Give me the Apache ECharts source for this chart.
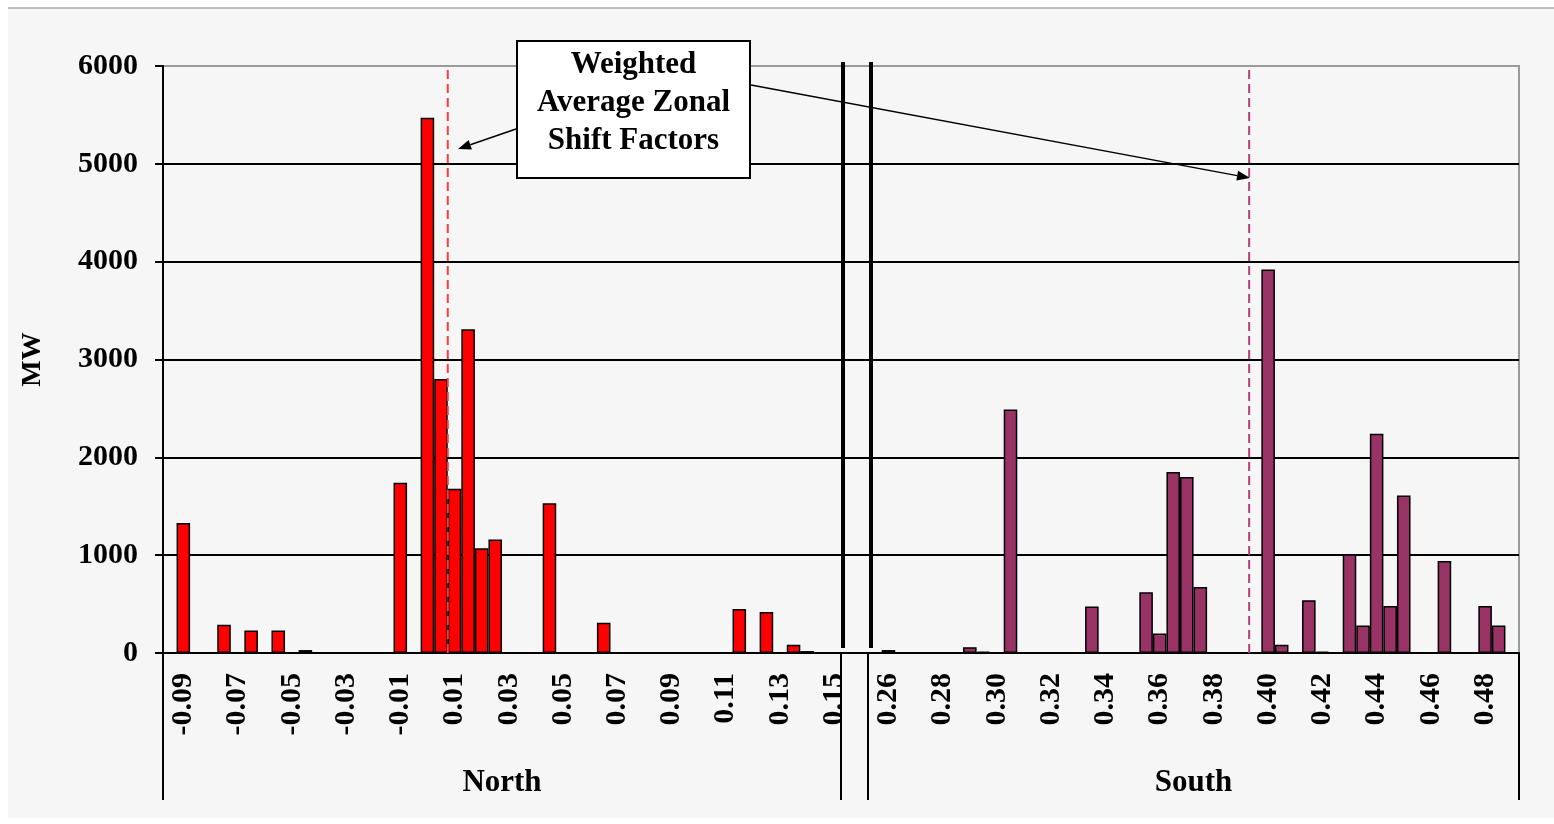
<!DOCTYPE html>
<html>
<head>
<meta charset="utf-8">
<script src="https://cdn.jsdelivr.net/npm/echarts@6/dist/echarts.min.js"></script>
<style>
html, body { margin: 0; padding: 0; background: #fff; }
#wrap { position: relative; width: 1554px; height: 824px; }
#panel { position: absolute; left: 8px; top: 7px; width: 1546px; height: 809px; background: #f6f6f6; border-top: 2px solid #bdbdbd; }
#container { position: absolute; left: 0; top: 0; width: 1554px; height: 824px; }
</style>
</head>
<body>
<div id="wrap"><div id="panel"></div><div id="container"></div></div>
<script>
// shift factor bins (0.005 wide)
var northCats = ['-0.095', '-0.090', '-0.085', '-0.080', '-0.075', '-0.070', '-0.065', '-0.060', '-0.055', '-0.050',
    '-0.045', '-0.040', '-0.035', '-0.030', '-0.025', '-0.020', '-0.015', '-0.010', '-0.005', '0.000',
    '0.005', '0.010', '0.015', '0.020', '0.025', '0.030', '0.035', '0.040', '0.045', '0.050',
    '0.055', '0.060', '0.065', '0.070', '0.075', '0.080', '0.085', '0.090', '0.095', '0.100',
    '0.105', '0.110', '0.115', '0.120', '0.125', '0.130', '0.135', '0.140', '0.145', '0.150'];
var northMW = [0, 1330, 0, 0, 290, 0, 230, 0, 230, 0,
    30, 0, 0, 0, 0, 0, 0, 1740, 0, 5470,
    2800, 1680, 3310, 1070, 1160, 0, 0, 0, 1530, 0,
    0, 0, 310, 0, 0, 0, 0, 0, 0, 0,
    0, 0, 450, 0, 420, 0, 85, 20, 0, 0];

var southCats = ['0.255', '0.260', '0.265', '0.270', '0.275', '0.280', '0.285', '0.290', '0.295', '0.300',
    '0.305', '0.310', '0.315', '0.320', '0.325', '0.330', '0.335', '0.340', '0.345', '0.350',
    '0.355', '0.360', '0.365', '0.370', '0.375', '0.380', '0.385', '0.390', '0.395', '0.400',
    '0.405', '0.410', '0.415', '0.420', '0.425', '0.430', '0.435', '0.440', '0.445', '0.450',
    '0.455', '0.460', '0.465', '0.470', '0.475', '0.480', '0.485', '0.490'];
var southMW = [0, 30, 0, 0, 0, 0, 0, 60, 15, 0,
    2490, 0, 0, 0, 0, 0, 475, 0, 0, 0,
    620, 200, 1850, 1800, 675, 0, 0, 0, 0, 3920,
    85, 0, 540, 15, 0, 1010, 280, 2240, 480, 1610,
    0, 0, 940, 0, 0, 480, 280, 0];

var zones = ['North', 'South'];
// weighted average zonal shift factors
var northAvg = 0.0075;
var southAvg = 0.393;

var FONT = "'Liberation Serif', 'Times New Roman', serif";
var STEP = 0.005;
var gapCats = ['', ''];
var allCats = northCats.concat(gapCats, southCats);
var nN = northCats.length, nG = gapCats.length, nAll = allCats.length;

function blanks(n) { var a = []; for (var i = 0; i < n; i++) a.push('-'); return a; }

// value axes that line up with the category bins of each zone
var northMin = Number(northCats[0]) - STEP / 2;
var southMin = Number(southCats[0]) - (nN + nG) * STEP - STEP / 2;

function arrow(x1, y1, x2, y2) {
    var a = Math.atan2(y2 - y1, x2 - x1), L = 13, W = 5;
    var bx = x2 - L * Math.cos(a), by = y2 - L * Math.sin(a);
    var px = -Math.sin(a) * W, py = Math.cos(a) * W;
    return [
        { type: 'line', z: 100, shape: { x1: x1, y1: y1, x2: bx, y2: by }, style: { stroke: '#000', lineWidth: 1.5 } },
        { type: 'polygon', z: 100, shape: { points: [[x2, y2], [bx + px, by + py], [bx - px, by - py]] }, style: { fill: '#000' } }
    ];
}

var chart = echarts.init(document.getElementById('container'));

var option = {
    animation: false,
    textStyle: { fontFamily: FONT },
    grid: {
        left: 163, top: 66, width: 1356, height: 587,
        show: true, borderColor: '#9a9a9a', borderWidth: 2, backgroundColor: 'transparent'
    },
    xAxis: [{
        type: 'category',
        data: allCats,
        boundaryGap: true,
        axisLine: { lineStyle: { color: '#000', width: 2 } },
        axisTick: { show: false },
        axisLabel: {
            rotate: 90,
            margin: 20,
            interval: function (i) { return i % 4 === 1 && allCats[i] !== ''; },
            formatter: function (v) { return v === '' ? '' : Number(v).toFixed(2); },
            fontFamily: FONT, fontWeight: 'bold', fontSize: 30, color: '#000'
        },
        splitLine: { show: false }
    }, {
        // zone grouping row
        type: 'category',
        data: allCats,
        position: 'bottom',
        boundaryGap: true,
        axisLine: { show: false },
        axisTick: {
            show: true,
            length: 147,
            interval: function (i) { return i === 0 || i === nN || i === nN + nG; },
            lineStyle: { color: '#000', width: 2 }
        },
        axisLabel: {
            margin: 114,
            padding: [0, 0, 0, 13.56],
            interval: function (i) { return i === nN / 2 - 1 || i === nN + nG + southCats.length / 2 - 1; },
            formatter: function (v, i) { return i < nN ? zones[0] : zones[1]; },
            fontFamily: FONT, fontWeight: 'bold', fontSize: 31, color: '#000'
        },
        splitLine: { show: false }
    }, {
        type: 'value', show: false, position: 'top',
        axisLine: { onZero: false },
        min: northMin, max: northMin + nAll * STEP
    }, {
        type: 'value', show: false, position: 'top',
        axisLine: { onZero: false },
        min: southMin, max: southMin + nAll * STEP
    }],
    yAxis: {
        type: 'value',
        min: 0, max: 6000, interval: 1000,
        name: 'MW',
        nameLocation: 'middle',
        nameGap: 116,
        nameTextStyle: { fontFamily: FONT, fontWeight: 'bold', fontSize: 28, color: '#000' },
        axisLine: { show: true, onZero: false, lineStyle: { color: '#000', width: 2 } },
        axisTick: { show: true, length: 8, lineStyle: { color: '#000', width: 2 } },
        axisLabel: {
            margin: 25,
            formatter: function (v) { return String(v); },
            fontFamily: FONT, fontWeight: 'bold', fontSize: 30, color: '#000'
        },
        splitLine: { show: true, showMaxLine: false, lineStyle: { color: '#000', width: 2 } }
    },
    series: [{
        name: 'North',
        type: 'bar',
        xAxisIndex: 0,
        data: northMW.concat(blanks(nG + southCats.length)),
        barGap: '-100%',
        barCategoryGap: '0%',
        itemStyle: { color: '#ff0000', borderColor: '#000', borderWidth: 1.5 }
    }, {
        name: 'South',
        type: 'bar',
        xAxisIndex: 0,
        data: blanks(nN + nG).concat(southMW),
        barGap: '-100%',
        barCategoryGap: '0%',
        itemStyle: { color: '#993366', borderColor: '#000', borderWidth: 1.5 }
    }, {
        name: 'North average',
        type: 'line',
        xAxisIndex: 2,
        data: [[northAvg, 0], [northAvg, 6000]],
        symbol: 'none',
        silent: true,
        z: 5,
        lineStyle: { color: '#ff3b3b', width: 2, type: [9, 5] }
    }, {
        name: 'South average',
        type: 'line',
        xAxisIndex: 3,
        data: [[southAvg, 0], [southAvg, 6000]],
        symbol: 'none',
        silent: true,
        z: 5,
        lineStyle: { color: '#b0407a', width: 2, type: [9, 5] }
    }],
    graphic: [
        // axis break
        { type: 'line', z: 100, shape: { x1: 843, y1: 62, x2: 843, y2: 648 }, style: { stroke: '#000', lineWidth: 4 } },
        { type: 'line', z: 100, shape: { x1: 871, y1: 62, x2: 871, y2: 648 }, style: { stroke: '#000', lineWidth: 4 } },
        // annotation box
        { type: 'rect', z: 100, shape: { x: 517, y: 41, width: 233, height: 137 }, style: { fill: '#fff', stroke: '#000', lineWidth: 2 } },
        {
            type: 'text', z: 101, x: 633.5, y: 103,
            style: {
                text: 'Weighted\nAverage Zonal\nShift Factors',
                align: 'center', verticalAlign: 'middle',
                font: 'bold 31px ' + FONT, lineHeight: 38, fill: '#000'
            }
        }
    ].concat(arrow(516, 129, 458, 149), arrow(751, 85, 1250, 178))
};

chart.setOption(option);
</script>
</body>
</html>
